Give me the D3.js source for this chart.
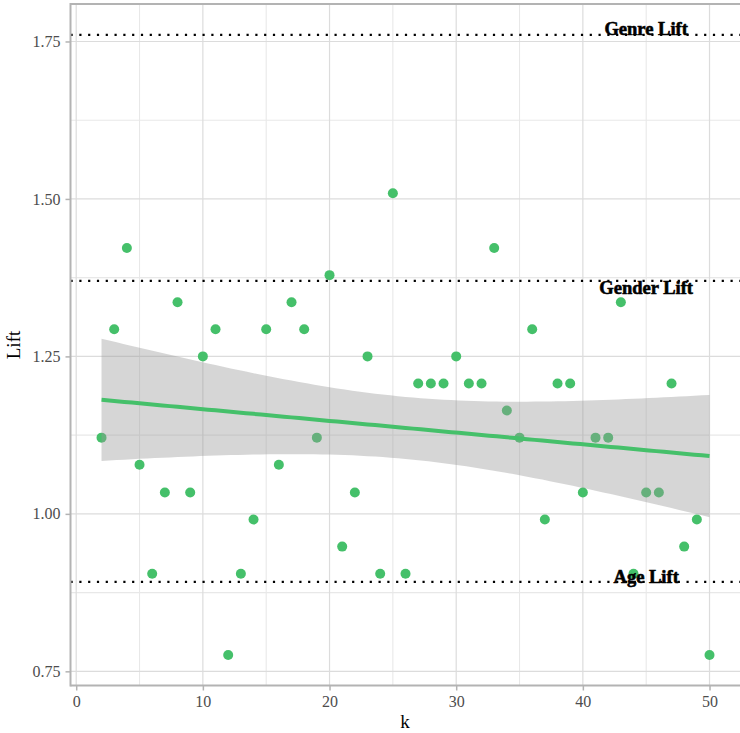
<!DOCTYPE html>
<html>
<head>
<meta charset="utf-8">
<script src="https://cdn.jsdelivr.net/npm/d3@7"></script>
<style>
  html, body { margin: 0; padding: 0; background: #fff; }
  svg { display: block; }
</style>
</head>
<body>
<svg id="chart" width="740" height="733"></svg>
<script>
// ---- data ----
const kValues = [2,3,4,5,6,7,8,9,10,11,12,13,14,15,16,17,18,19,20,21,22,23,24,25,26,
                 27,28,29,30,31,32,33,34,35,36,37,38,39,40,41,42,43,44,45,46,47,48,49,50];
const liftValues = [1.121,1.293,1.422,1.078,0.905,1.034,1.336,1.034,1.250,1.293,0.776,0.905,0.991,1.293,1.078,1.336,1.293,1.121,1.379,0.948,1.034,1.250,0.905,1.509,0.905,
                    1.207,1.207,1.207,1.250,1.207,1.207,1.422,1.164,1.121,1.293,0.991,1.207,1.207,1.034,1.121,1.121,1.336,0.905,1.034,1.034,1.207,0.948,0.991,0.776];
const refNames = ["Genre Lift", "Gender Lift", "Age Lift"];
const refValues = [1.7606, 1.370, 0.892];
const refLabelY = [1.771, 1.359, 0.900];
const refLabelK = 45;
const xTicks = [0, 10, 20, 30, 40, 50];
const xMinor = [5, 15, 25, 35, 45];
const yTicks = [0.75, 1.00, 1.25, 1.50, 1.75];
const yMinor = [0.875, 1.125, 1.375, 1.625];

// ---- layout ----
const svg = d3.select("#chart");
const panel = { left: 70.5, right: 746, top: 4, bottom: 685.5 };
const x = d3.scaleLinear().domain([-0.45, 52.88]).range([panel.left, panel.right]);
const y = d3.scaleLinear().domain([0.7275, 1.8095]).range([panel.bottom, panel.top]);
const green = "#45c06a";
const serif = "'Liberation Serif', 'DejaVu Serif', serif";

const g = svg.append("g");
g.append("rect").attr("x", panel.left).attr("y", panel.top)
  .attr("width", panel.right - panel.left).attr("height", panel.bottom - panel.top)
  .attr("fill", "#fff");

// grid
const grid = g.append("g");
grid.selectAll(".xm").data(xMinor).join("line")
  .attr("x1", d => x(d)).attr("x2", d => x(d)).attr("y1", panel.top).attr("y2", panel.bottom)
  .attr("stroke", "#e8e8e8").attr("stroke-width", 1.1);
grid.selectAll(".ym").data(yMinor).join("line")
  .attr("y1", d => y(d)).attr("y2", d => y(d)).attr("x1", panel.left).attr("x2", panel.right)
  .attr("stroke", "#e8e8e8").attr("stroke-width", 1.1);
grid.selectAll(".xM").data(xTicks).join("line")
  .attr("x1", d => x(d)).attr("x2", d => x(d)).attr("y1", panel.top).attr("y2", panel.bottom)
  .attr("stroke", "#dcdcdc").attr("stroke-width", 1.2);
grid.selectAll(".yM").data(yTicks).join("line")
  .attr("y1", d => y(d)).attr("y2", d => y(d)).attr("x1", panel.left).attr("x2", panel.right)
  .attr("stroke", "#dcdcdc").attr("stroke-width", 1.2);

// points
const pts = kValues.map((k, i) => ({ k, v: liftValues[i] }));
g.append("g").selectAll("circle").data(pts).join("circle")
  .attr("cx", d => x(d.k)).attr("cy", d => y(d.v)).attr("r", 5)
  .attr("fill", green);

// linear regression with 95% CI
const n = pts.length;
const mx = d3.mean(pts, d => d.k), my = d3.mean(pts, d => d.v);
const sxx = d3.sum(pts, d => (d.k - mx) ** 2);
const sxy = d3.sum(pts, d => (d.k - mx) * (d.v - my));
const b = sxy / sxx, a = my - b * mx;
const sse = d3.sum(pts, d => (d.v - (a + b * d.k)) ** 2);
const s = Math.sqrt(sse / (n - 2));
const tq = 2.0117;
const kMin = d3.min(kValues), kMax = d3.max(kValues);
const fit = d3.range(0, 81).map(i => {
  const k = kMin + (kMax - kMin) * i / 80;
  const f = a + b * k;
  const se = s * Math.sqrt(1 / n + (k - mx) ** 2 / sxx);
  return { k, f, lo: f - tq * se, hi: f + tq * se };
});
g.append("path").datum(fit)
  .attr("d", d3.area().x(d => x(d.k)).y0(d => y(d.lo)).y1(d => y(d.hi)))
  .attr("fill", "#999999").attr("fill-opacity", 0.4);
g.append("path").datum(fit)
  .attr("d", d3.line().x(d => x(d.k)).y(d => y(d.f)))
  .attr("fill", "none").attr("stroke", green).attr("stroke-width", 4);

// reference lines
g.append("g").selectAll("line").data(refValues).join("line")
  .attr("x1", panel.left).attr("x2", panel.right)
  .attr("y1", d => y(d)).attr("y2", d => y(d))
  .attr("stroke", "#000").attr("stroke-width", 2.2)
  .attr("stroke-dasharray", "2.2 6.6");
g.append("g").selectAll("text").data(refNames).join("text")
  .attr("x", x(refLabelK)).attr("y", (d, i) => y(refLabelY[i]))
  .attr("dy", "0.35em").attr("text-anchor", "middle")
  .attr("font-family", serif).attr("font-weight", "bold").attr("font-size", 18.5)
  .attr("fill", "#000").attr("stroke", "#000").attr("stroke-width", 0.6)
  .text(d => d);

// axis lines (border)
const axCol = "#b3b3b3";
g.append("line").attr("x1", panel.left).attr("x2", panel.left).attr("y1", panel.top - 1).attr("y2", panel.bottom + 1)
  .attr("stroke", axCol).attr("stroke-width", 2);
g.append("line").attr("x1", panel.left).attr("x2", panel.right).attr("y1", panel.bottom).attr("y2", panel.bottom)
  .attr("stroke", axCol).attr("stroke-width", 2);
g.append("line").attr("x1", panel.left).attr("x2", panel.right).attr("y1", panel.top).attr("y2", panel.top)
  .attr("stroke", axCol).attr("stroke-width", 2);

// axes
const xAxis = g.append("g").attr("transform", `translate(0,${panel.bottom})`)
  .call(d3.axisBottom(x).tickValues(xTicks).tickSize(5).tickPadding(5).tickFormat(d3.format("d")));
const yAxis = g.append("g").attr("transform", `translate(${panel.left},0)`)
  .call(d3.axisLeft(y).tickValues(yTicks).tickSize(5).tickPadding(5).tickFormat(d3.format(".2f")));
[xAxis, yAxis].forEach(ax => {
  ax.attr("font-family", serif).attr("font-size", 16);
  ax.select(".domain").remove();
  ax.selectAll(".tick line").attr("stroke", axCol).attr("stroke-width", 1.5);
  ax.selectAll(".tick text").attr("fill", "#4d4d4d").attr("font-family", serif).attr("font-size", 16);
});

// axis titles
svg.append("text").attr("x", 405).attr("y", 728)
  .attr("text-anchor", "middle").attr("font-family", serif).attr("font-size", 19)
  .attr("fill", "#000").text("k");
svg.append("text").attr("transform", `translate(20,345) rotate(-90)`)
  .attr("text-anchor", "middle").attr("font-family", serif).attr("font-size", 19)
  .attr("fill", "#000").text("Lift");
</script>
</body>
</html>
